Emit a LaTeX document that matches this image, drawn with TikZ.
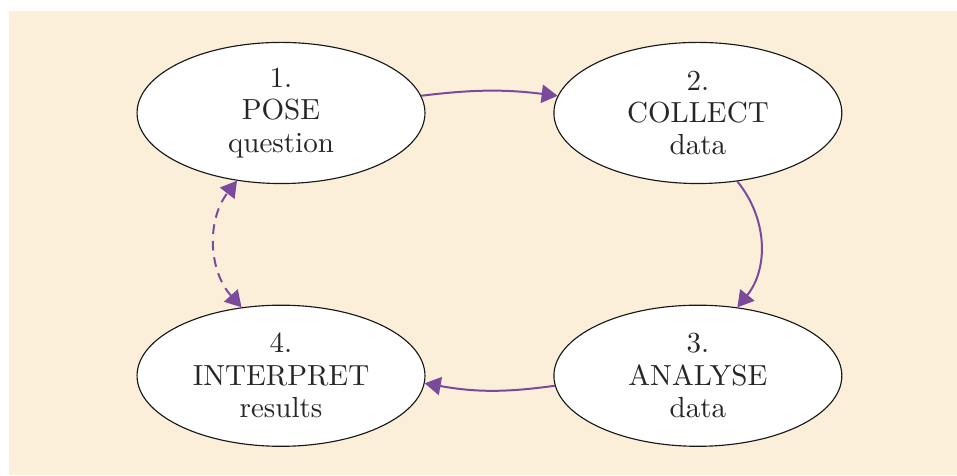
\documentclass[tikz,border=0pt]{standalone}
\usepackage{tikz}
\usetikzlibrary{shapes.geometric, arrows.meta}
\definecolor{bgbeige}{HTML}{FCEFD9}
\definecolor{flowpurple}{HTML}{7A4A9C}
\tikzstyle{stage} = [ellipse, 
minimum width=3.55cm, 
minimum height=1.74cm, 
inner sep=0pt, 
align=center, 
font={\fontsize{10.2}{11.4}\selectfont}, 
text=black!85, 
draw=black!90, 
thin, 
fill=white]
\tikzstyle{flow} = [line width=0.7pt, flowpurple, -{Triangle[length=5.6pt,width=6.4pt]}]
\tikzstyle{dashedflow} = [line width=0.7pt, flowpurple, dash pattern=on 3.4pt off 2.4pt, {Triangle[length=5.6pt,width=6.4pt]}-{Triangle[length=5.6pt,width=6.4pt]}]

\begin{document}
\begin{tikzpicture}[node distance=2cm]
    \useasboundingbox (-3.465,1.393) rectangle (8.335,-4.467);
    \fill [bgbeige] (-3.354,1.257) rectangle (8.335,-4.467);

    \node (pose) [stage] {1.\\ POSE\\ question};
    \node (collect) [stage, xshift=5.14cm] {2.\\ COLLECT\\ data};
    \node (analyse) [stage, xshift=5.14cm, yshift=-3.24cm] {3.\\ ANALYSE\\ data};
    \node (interpret) [stage, yshift=-3.24cm] {4.\\ INTERPRET\\ results};

    % Cycle
    \draw [flow] (pose.7) to[bend left=7] (collect.173);
    \draw [flow] (collect.300) to[bend left=39] (analyse.60);
    \draw [flow] (analyse.184) to[bend left=9] (interpret.357);

    % Back to the question
    \draw [dashedflow] (interpret.120) to[bend left=40] (pose.237);
  \end{tikzpicture}
\end{document}
